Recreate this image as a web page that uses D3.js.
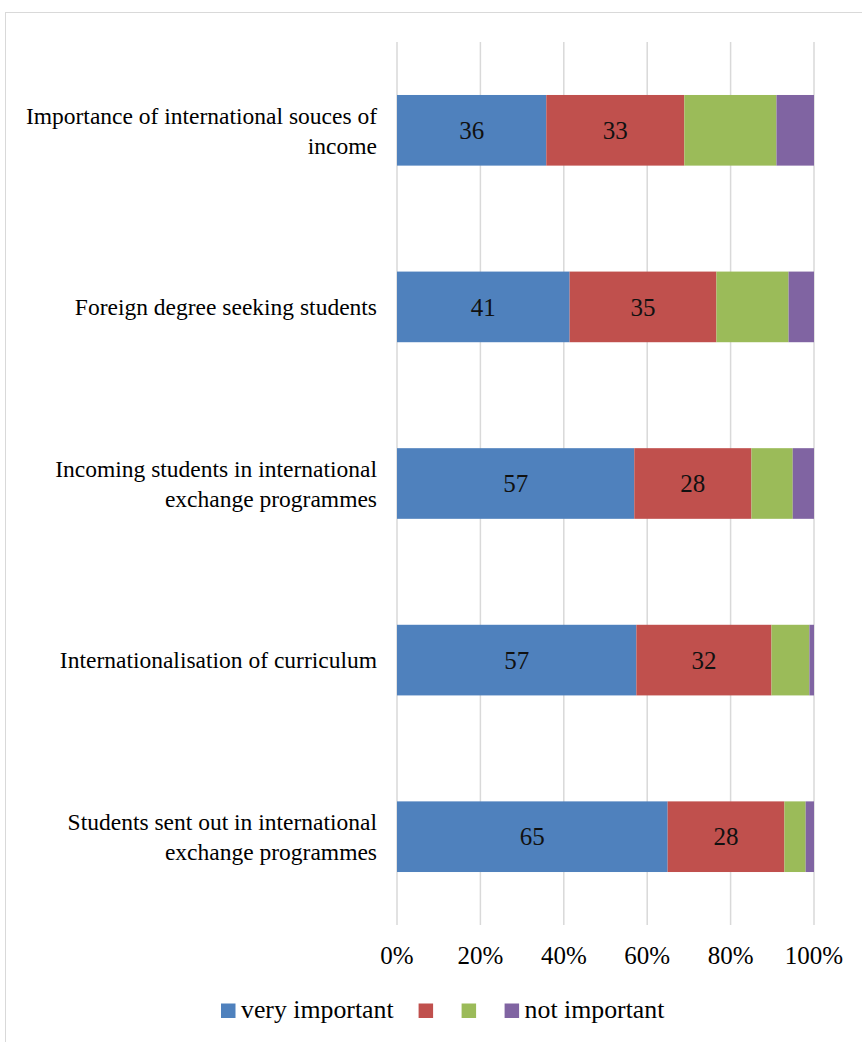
<!DOCTYPE html>
<html>
<head>
<meta charset="utf-8">
<script src="https://cdn.jsdelivr.net/npm/d3@7"></script>
<style>
  html, body { margin: 0; padding: 0; background: #fff; }
  svg { display: block; }
</style>
</head>
<body>
<svg id="chart" width="862" height="1042"></svg>
<script>
// ---- data ----
const categories = [
  "Importance of international souces of income",
  "Foreign degree seeking students",
  "Incoming students in international exchange programmes",
  "Internationalisation of curriculum",
  "Students sent out in international exchange programmes"
];
const seriesNames = ["very important", "", "", "not important"];
const veryImportant = [35.8, 41.4, 56.9, 57.4, 64.9];
const important     = [33.1, 35.2, 28.1, 32.4, 28.0];
const lessImportant = [22.1, 17.3,  9.9,  9.1,  5.1];
const notImportant  = [ 9.0,  6.1,  5.1,  1.1,  2.0];
const showLabel = [true, true, false, false];
const tickValues = [0, 0.2, 0.4, 0.6, 0.8, 1.0];
const colors = ["#4F81BD", "#C0504D", "#9BBB59", "#8064A2"];

const FONT = "'Liberation Serif', 'Times New Roman', Times, 'Noto Serif', 'DejaVu Serif', serif";

// ---- layout ----
const svg = d3.select("#chart").attr("font-family", FONT);
const W = 862, H = 1042;
const plot = { left: 397, right: 814, top: 42, bottom: 925 };

// frame (only top and left edges visible)
svg.append("rect")
  .attr("x", 5.5).attr("y", 12.5)
  .attr("width", W + 20).attr("height", H + 20)
  .attr("fill", "none").attr("stroke", "#d9d9d9").attr("stroke-width", 1);

const seriesValues = [veryImportant, important, lessImportant, notImportant];
const rows = categories.map((c, i) => {
  const r = { category: c };
  seriesValues.forEach((s, k) => r["s" + k] = s[i]);
  return r;
});
const keys = seriesValues.map((s, k) => "s" + k);
const stacked = d3.stack().keys(keys).offset(d3.stackOffsetExpand)(rows);

const x = d3.scaleLinear().domain([0, 1]).range([plot.left, plot.right]);
const y = d3.scaleBand().domain(categories).range([plot.top, plot.bottom])
  .paddingInner(0.6).paddingOuter(0.3);

// gridlines
svg.append("g").selectAll("line").data(tickValues).join("line")
  .attr("x1", d => x(d)).attr("x2", d => x(d))
  .attr("y1", plot.top).attr("y2", plot.bottom)
  .attr("stroke", "#d9d9d9").attr("stroke-width", 1.5);

// bars
const layers = svg.append("g").selectAll("g").data(stacked).join("g")
  .attr("fill", (d, i) => colors[i]);
layers.selectAll("rect").data(d => d.map(p => ({ p, cat: p.data.category }))).join("rect")
  .attr("x", d => x(d.p[0]))
  .attr("width", d => x(d.p[1]) - x(d.p[0]))
  .attr("y", d => y(d.cat))
  .attr("height", y.bandwidth());

// data labels
stacked.forEach((layer, k) => {
  if (!showLabel[k]) return;
  svg.append("g").selectAll("text").data(layer).join("text")
    .attr("font-family", FONT)
    .attr("x", d => (x(d[0]) + x(d[1])) / 2)
    .attr("y", d => y(d.data.category) + y.bandwidth() / 2)
    .attr("dy", "0.35em")
    .attr("text-anchor", "middle")
    .attr("font-size", 25)
    .attr("fill", "#111")
    .text((d, i) => d3.format(".0f")(seriesValues[k][i]));
});

// x axis tick labels
const fmt = d3.format(".0%");
svg.append("g").selectAll("text").data(tickValues).join("text")
  .attr("font-family", FONT)
  .attr("x", d => x(d)).attr("y", 964)
  .attr("text-anchor", "middle")
  .attr("font-size", 25)
  .attr("fill", "#000")
  .text(d => fmt(d));

// category labels with wrapping
const catG = svg.append("g");
const maxW = 362, lineH = 30, catFont = 23.5;
categories.forEach(c => {
  const t = catG.append("text").attr("font-family", FONT).attr("font-size", catFont)
    .attr("text-anchor", "end").attr("fill", "#000");
  const words = c.split(" ");
  const lines = [];
  let cur = [];
  const probe = t.append("tspan");
  words.forEach(w => {
    const test = cur.concat([w]).join(" ");
    probe.text(test);
    if (probe.node().getComputedTextLength() > maxW && cur.length) {
      lines.push(cur.join(" "));
      cur = [w];
    } else cur.push(w);
  });
  lines.push(cur.join(" "));
  probe.remove();
  const cy = y(c) + y.bandwidth() / 2;
  lines.forEach((ln, i) => {
    t.append("tspan")
      .attr("x", 377)
      .attr("y", cy + (i - (lines.length - 1) / 2) * lineH)
      .attr("dy", "0.35em")
      .text(ln);
  });
});

// legend
const legend = svg.append("g");
let lx = 0;
seriesNames.forEach((name, i) => {
  const g = legend.append("g").attr("transform", `translate(${lx},0)`);
  g.append("rect").attr("x", 0).attr("y", -7.5).attr("width", 14.5).attr("height", 14.5)
    .attr("fill", colors[i]);
  const t = g.append("text").attr("font-family", FONT).attr("x", 20).attr("y", 7)
    .attr("font-size", 25.8).attr("fill", "#000").text(name);
  const tw = name ? t.node().getComputedTextLength() : 0;
  lx += 14.5 + 6 + tw + (name ? 24.5 : 22.5);
});
legend.attr("transform", `translate(221,1011)`);
</script>
</body>
</html>
